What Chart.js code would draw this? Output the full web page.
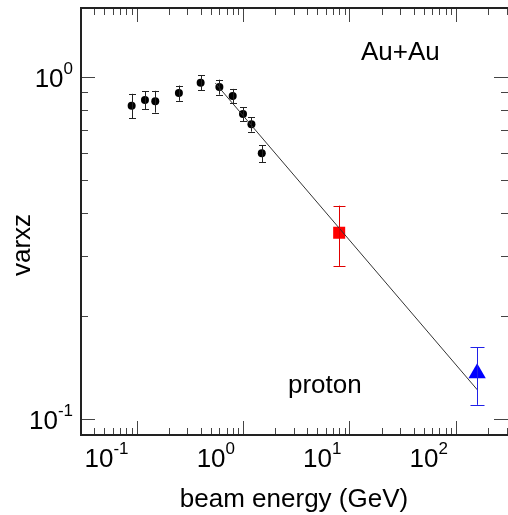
<!DOCTYPE html>
<html>
<head>
<meta charset="utf-8">
<script src="https://cdn.jsdelivr.net/npm/chart.js@4/dist/chart.umd.min.js"></script>
<style>
  html, body { margin: 0; padding: 0; background: #fff; }
  canvas { display: block; }
</style>
</head>
<body>
<canvas id="chart" width="508" height="515"></canvas>
<script>
// low energy points (black circles)
const energies = [0.09, 0.12, 0.15, 0.25, 0.4, 0.6, 0.8, 1.0, 1.2, 1.5];
const varxz = [0.823, 0.855, 0.847, 0.896, 0.960, 0.933, 0.878, 0.778, 0.726, 0.597];
const varxzErr = [0.068, 0.052, 0.062, 0.046, 0.048, 0.047, 0.043, 0.037, 0.035, 0.034];

// red square
const agsEnergy = [8];
const agsVarxz = [0.35];
const agsErr = [0.07];

// blue triangle
const spsEnergy = [158];
const spsVarxz = [0.136];
const spsErr = [0.026];

// straight line (power law in log-log)
const fitEnergy = [0.55, 159];
const fitVarxz = [0.957, 0.1216];

const xTickExps = [-1, 0, 1, 2];
const yTickExps = [-1, 0];

const FONT = '"Liberation Sans", Arial, Helvetica, sans-serif';

function pts(xs, ys) {
    return xs.map((x, i) => ({ x: x, y: ys[i] }));
}

const errorBars = {
    id: 'errorBars',
    afterDatasetsDraw(chart) {
        const ctx = chart.ctx;
        const xs = chart.scales.x, ys = chart.scales.y;
        chart.data.datasets.forEach(ds => {
            if (!ds.errors) return;
            ctx.save();
            ctx.strokeStyle = ds.errColor;
            ctx.lineWidth = 1;
            ds.data.forEach((p, i) => {
                const px = Math.round(xs.getPixelForValue(p.x)) + 0.5;
                const top = ys.getPixelForValue(p.y + ds.errors[i]);
                const bot = ys.getPixelForValue(p.y - ds.errors[i]);
                const w = ds.capWidth;
                ctx.beginPath();
                ctx.moveTo(px, top); ctx.lineTo(px, bot);
                ctx.moveTo(px - w, Math.round(top) + 0.5); ctx.lineTo(px + w, Math.round(top) + 0.5);
                ctx.moveTo(px - w, Math.round(bot) + 0.5); ctx.lineTo(px + w, Math.round(bot) + 0.5);
                ctx.stroke();
            });
            ctx.restore();
        });
    }
};

function drawPow(ctx, x, y, exp, align) {
    ctx.font = '26px ' + FONT;
    const baseW = ctx.measureText('10').width;
    ctx.font = '17px ' + FONT;
    const expW = ctx.measureText(String(exp)).width;
    let left = x;
    if (align === 'right') left = x - baseW - expW;
    ctx.font = '26px ' + FONT;
    ctx.fillText('10', left, y);
    ctx.font = '17px ' + FONT;
    ctx.fillText(String(exp), left + baseW, y - 13);
}

const frame = {
    id: 'frame',
    afterDraw(chart) {
        const ctx = chart.ctx;
        const a = chart.chartArea;
        const xs = chart.scales.x, ys = chart.scales.y;
        ctx.save();
        // ticks
        ctx.strokeStyle = '#444';
        ctx.lineWidth = 1;
        ctx.beginPath();
        for (let e = -2; e <= 2; e++) {
            for (let m = 1; m <= 9; m++) {
                const v = m * Math.pow(10, e);
                if (v < xs.min || v > xs.max) continue;
                const px = Math.round(xs.getPixelForValue(v)) + 0.5;
                const len = m === 1 ? 14 : 7;
                ctx.moveTo(px, a.bottom); ctx.lineTo(px, a.bottom - len);
                ctx.moveTo(px, a.top); ctx.lineTo(px, a.top + len);
            }
        }
        for (let e = -2; e <= 0; e++) {
            for (let m = 1; m <= 9; m++) {
                const v = m * Math.pow(10, e);
                if (v < ys.min || v > ys.max) continue;
                const py = Math.round(ys.getPixelForValue(v)) + 0.5;
                const len = m === 1 ? 14 : 7;
                ctx.moveTo(a.left, py); ctx.lineTo(a.left + len, py);
                ctx.moveTo(a.right, py); ctx.lineTo(a.right - len, py);
            }
        }
        ctx.stroke();
        // frame (right side falls on the canvas edge)
        ctx.strokeStyle = '#222';
        ctx.lineWidth = 2;
        ctx.beginPath();
        ctx.moveTo(a.right + 2, a.top);
        ctx.lineTo(a.left, a.top);
        ctx.lineTo(a.left, a.bottom);
        ctx.lineTo(a.right + 2, a.bottom);
        ctx.stroke();

        // tick labels
        ctx.fillStyle = '#000';
        ctx.textBaseline = 'alphabetic';
        ctx.textAlign = 'left';
        xTickExps.forEach(e => {
            const px = xs.getPixelForValue(Math.pow(10, e));
            drawPow(ctx, px - 8, 467, e, 'right');
        });
        yTickExps.forEach(e => {
            const py = ys.getPixelForValue(Math.pow(10, e));
            drawPow(ctx, a.left - 8, py + 10, e, 'right');
        });

        // titles
        ctx.font = '26px ' + FONT;
        ctx.textAlign = 'center';
        ctx.fillText('beam energy (GeV)', 294, 507);
        ctx.save();
        ctx.translate(30, 245);
        ctx.rotate(-Math.PI / 2);
        ctx.fillText('varxz', 0, 0);
        ctx.restore();

        // annotations
        ctx.textAlign = 'left';
        ctx.fillText('Au+Au', 361, 60);
        ctx.fillText('proton', 288, 393);
        ctx.restore();
    }
};

new Chart(document.getElementById('chart'), {
    type: 'scatter',
    data: {
        datasets: [
            {
                type: 'line',
                data: pts(fitEnergy, fitVarxz),
                borderColor: '#333',
                borderWidth: 1,
                pointRadius: 0,
                fill: false
            },
            {
                data: pts(energies, varxz),
                errors: varxzErr,
                errColor: '#222',
                capWidth: 3.5,
                pointStyle: 'circle',
                pointRadius: 4,
                backgroundColor: '#000',
                borderColor: '#000',
                borderWidth: 0
            },
            {
                data: pts(agsEnergy, agsVarxz),
                errors: agsErr,
                errColor: '#e00000',
                capWidth: 6,
                pointStyle: 'rect',
                pointRadius: 8.5,
                backgroundColor: '#ff0000',
                borderColor: '#ff0000',
                borderWidth: 0
            },
            {
                data: pts(spsEnergy, spsVarxz),
                errors: spsErr,
                errColor: '#2020e8',
                capWidth: 7,
                pointStyle: 'triangle',
                pointRadius: 10,
                backgroundColor: '#0000ff',
                borderColor: '#0000ff',
                borderWidth: 0
            }
        ]
    },
    options: {
        responsive: false,
        devicePixelRatio: 1,
        animation: false,
        layout: { autoPadding: false, padding: { left: 81, top: 8, right: 0, bottom: 80 } },
        plugins: {
            legend: { display: false },
            tooltip: { enabled: false }
        },
        scales: {
            x: { type: 'logarithmic', min: 0.0301, max: 308, display: false },
            y: { type: 'logarithmic', min: 0.0898, max: 1.587, display: false }
        }
    },
    plugins: [errorBars, frame]
});
</script>
</body>
</html>
